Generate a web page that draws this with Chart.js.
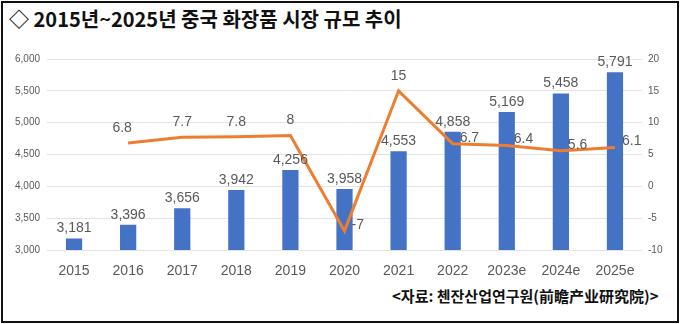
<!DOCTYPE html>
<html>
<head>
<meta charset="utf-8">
<script src="https://cdn.jsdelivr.net/npm/chart.js@4"></script>
<style>
  html, body { margin: 0; padding: 0; background: #fff; overflow: hidden; }
  #frame { position: absolute; left: 1px; top: 1px; width: 674px; height: 318px; border: 2px solid #111; }
  #title { position: absolute; left: 9px; top: 4px; font: bold 20px "Noto Sans CJK KR", sans-serif; color: #111; white-space: nowrap; }
  #source { position: absolute; left: 392px; top: 285px; font: bold 15px "Noto Sans CJK KR", sans-serif; color: #111; white-space: nowrap; }
  #wrap { position: absolute; left: 0; top: 45px; width: 680px; height: 240px; }
</style>
</head>
<body>
<div id="frame"></div>
<div id="title">◇ 2015년~2025년 중국 화장품 시장 규모 추이</div>
<div id="wrap"><canvas id="chart"></canvas></div>
<div id="source">&lt;자료: 첸잔산업연구원(前瞻产业研究院)&gt;</div>
<script>
const years = ["2015", "2016", "2017", "2018", "2019", "2020", "2021", "2022", "2023e", "2024e", "2025e"];
const marketSize = [3181, 3396, 3656, 3942, 4256, 3958, 4553, 4858, 5169, 5458, 5791];
const growthRate = [null, 6.8, 7.7, 7.8, 8, -7, 15, 6.7, 6.4, 5.6, 6.1];
const leftTicks = [3000, 6000, 500];
const rightTicks = [-10, 20, 5];

// where each growth label sits relative to its point
const rateLabelPos = ["top", "top", "top", "top", "top", "right", "top", "right", "right", "right", "right"];

const labelPlugin = {
  id: "valueLabels",
  afterDatasetsDraw(chart) {
    const ctx = chart.ctx;
    ctx.save();
    ctx.fillStyle = "#595959";
    ctx.font = "14px 'Liberation Sans', Arial, sans-serif";
    ctx.textAlign = "center";
    ctx.textBaseline = "bottom";
    chart.getDatasetMeta(0).data.forEach((bar, i) => {
      ctx.fillText(marketSize[i].toLocaleString("en-US"), bar.x, bar.y - 3);
    });
    chart.getDatasetMeta(1).data.forEach((pt, i) => {
      if (growthRate[i] === null) return;
      const txt = String(growthRate[i]);
      if (rateLabelPos[i] === "right") {
        ctx.textAlign = "left";
        ctx.textBaseline = "middle";
        ctx.fillText(txt, pt.x + 7, pt.y - 6);
      } else {
        ctx.textAlign = "center";
        ctx.textBaseline = "bottom";
        ctx.fillText(txt, pt.x - (i === 1 ? 6 : 0), pt.y - 8);
      }
    });
    ctx.restore();
  }
};

new Chart(document.getElementById("chart"), {
  type: "bar",
  data: {
    labels: years,
    datasets: [{
      type: "bar",
      data: marketSize,
      backgroundColor: "#4472C4",
      barPercentage: 0.3,
      categoryPercentage: 1,
      yAxisID: "y",
      order: 2
    }, {
      type: "line",
      data: growthRate,
      borderColor: "#ED7D31",
      borderWidth: 3,
      pointRadius: 0,
      tension: 0,
      yAxisID: "y2",
      order: 1
    }]
  },
  options: {
    responsive: true,
    maintainAspectRatio: false,
    animation: false,
    layout: { padding: { top: 14, bottom: 0, left: 0, right: 0 } },
    plugins: { legend: { display: false }, tooltip: { enabled: false } },
    scales: {
      x: {
        grid: { display: false },
        border: { display: false },
        ticks: { color: "#595959", font: { size: 14, family: "'Liberation Sans', Arial, sans-serif" }, padding: 5 },
        afterFit(s) { s.height = 35; }
      },
      y: {
        position: "left",
        min: leftTicks[0], max: leftTicks[1],
        ticks: {
          stepSize: leftTicks[2], padding: 7, color: "#595959",
          font: { size: 10, family: "'Liberation Sans', Arial, sans-serif" },
          callback: v => v.toLocaleString("en-US")
        },
        grid: { color: "#e3e3e3", drawTicks: false },
        border: { display: false },
        afterFit(s) { s.width = 47; }
      },
      y2: {
        position: "right",
        min: rightTicks[0], max: rightTicks[1],
        ticks: {
          stepSize: rightTicks[2], padding: 6, color: "#595959",
          font: { size: 10, family: "'Liberation Sans', Arial, sans-serif" }
        },
        grid: { display: false, drawTicks: false },
        border: { display: false },
        afterFit(s) { s.width = 38; }
      }
    }
  },
  plugins: [labelPlugin]
});
</script>
</body>
</html>
